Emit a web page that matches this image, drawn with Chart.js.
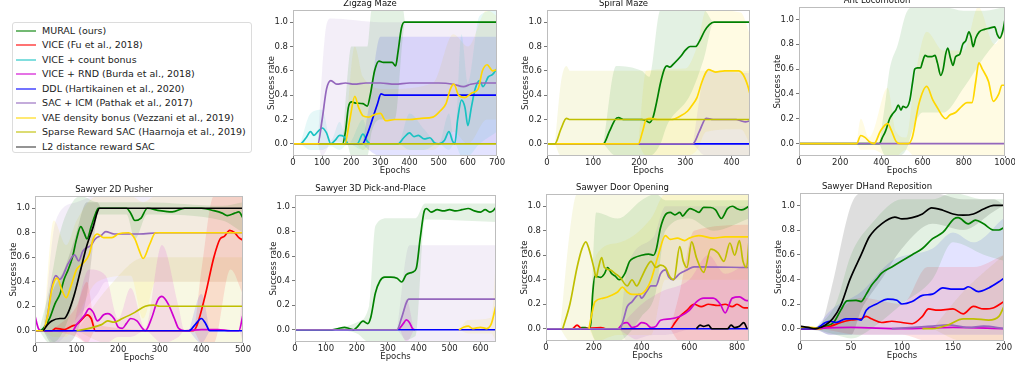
<!DOCTYPE html>
<html>
<head>
<meta charset="utf-8">
<script src="https://cdn.jsdelivr.net/npm/chart.js@4.4.1/dist/chart.umd.min.js"></script>
<style>
  body { margin: 0; background: #fff; width: 1015px; height: 366px; overflow: hidden; position: relative; font-family: "DejaVu Sans", sans-serif; }
  canvas { position: absolute; }
  #legend { position: absolute; left: 12px; top: 22px; width: 240px; height: 131px; border: 1px solid #dcdcdc; border-radius: 3px; box-sizing: border-box; }
  .item { position: absolute; left: 0; width: 236px; height: 13px; font-size: 9.5px; line-height: 13px; color: #222; white-space: nowrap; }
  .item .sw { position: absolute; left: 3px; top: 6px; width: 20px; height: 2px; }
  .item .tx { position: absolute; left: 29px; top: 0; }
</style>
</head>
<body>
<div id="legend"></div>
<script>
const seriesNames = ["MURAL (ours)", "VICE (Fu et al., 2018)", "VICE + count bonus", "VICE + RND (Burda et al., 2018)", "DDL (Hartikainen et al., 2020)", "SAC + ICM (Pathak et al., 2017)", "VAE density bonus (Vezzani et al., 2019)", "Sparse Reward SAC (Haarnoja et al., 2019)", "L2 distance reward SAC"];
const seriesColors = ["#008000", "#ff0000", "#19c2c2", "#d000d0", "#0000ff", "#9467bd", "#ffd700", "#bfbf00", "#000000"];
const yTicks = [0, 0.2, 0.4, 0.6, 0.8, 1.0];

// Zigzag Maze  [epoch, success]
var zigzagMural = [[0,0],[170,0],[180,0.1],[190,0.3],[200,0.345],[215,0.335],[240,0.33],[255,0.31],[265,0.4],[280,0.6],[295,0.68],[310,0.67],[340,0.67],[352,0.64],[360,0.75],[372,0.95],[382,1.0],[700,1.0]];
var zigzagCount = [[0,0],[25,0],[45,0.05],[60,0.1],[72,0.07],[85,0.1],[100,0.13],[115,0.09],[130,0],[145,0.03],[160,0.07],[175,0.06],[190,0],[220,0],[240,0.08],[255,0.02],[265,0],[360,0],[380,0.05],[400,0.09],[415,0.06],[430,0.07],[450,0.04],[470,0.05],[485,0.01],[500,0],[520,0.03],[535,0.1],[548,0.02],[555,0],[565,0.2],[578,0.36],[590,0.3],[600,0.15],[612,0.3],[625,0.45],[640,0.52],[652,0.47],[670,0.55],[685,0.57],[700,0.62]];
var zigzagDdl = [[0,0],[238,0],[255,0.08],[275,0.22],[290,0.33],[302,0.41],[315,0.4],[700,0.4]];
var zigzagIcm = [[0,0],[85,0],[100,0.2],[115,0.45],[130,0.52],[150,0.49],[180,0.5],[210,0.49],[250,0.5],[300,0.5],[350,0.49],[400,0.5],[450,0.5],[500,0.5],[550,0.49],[585,0.47],[610,0.49],[650,0.5],[700,0.5]];
var zigzagVae = [[0,0],[178,0],[195,0.2],[212,0.39],[225,0.3],[240,0.23],[260,0.22],[280,0.24],[300,0.25],[318,0.19],[350,0.2],[400,0.2],[440,0.21],[480,0.22],[505,0.27],[525,0.33],[540,0.45],[552,0.49],[568,0.4],[590,0.38],[615,0.42],[635,0.45],[650,0.6],[666,0.65],[685,0.6],[700,0.61]];
var zigzagSparse = [[90,0],[700,0]];
var zigzagMuralBand = [[170,0,0],[185,0,0.5],[200,-0.1,0.8],[255,-0.1,0.8],[270,0.1,1.1],[300,0.2,1.1],[350,0.2,1.1],[378,0.9,1.1],[385,1,1],[700,1,1]];
var zigzagCountBand = [[25,0,0],[60,-0.05,0.25],[100,-0.05,0.28],[130,-0.02,0.03],[160,-0.05,0.18],[190,0,0],[240,-0.05,0.2],[265,0,0],[360,0,0],[400,-0.05,0.25],[450,-0.05,0.12],[500,0,0],[535,-0.05,0.25],[555,0,0],[578,-0.1,0.9],[600,-0.1,0.5],[640,0,1.05],[700,0.1,1.1]];
var zigzagDdlBand = [[238,0,0],[260,-0.05,0.3],[300,-0.1,0.88],[700,-0.1,0.88]];
var zigzagIcmBand = [[85,0,0],[100,-0.1,0.6],[115,-0.05,0.98],[130,0.02,1.03],[300,0,1.0],[700,0,1.0]];
var zigzagVaeBand = [[178,0,0],[212,0,0.8],[240,-0.05,0.55],[320,-0.05,0.45],[480,-0.05,0.5],[550,0.1,0.9],[600,0,0.8],[666,0.2,1.1],[700,0.2,1.05]];

// Spiral Maze
var spiralMural = [[0,0],[122,0],[135,0.1],[148,0.2],[155,0.215],[165,0.2],[205,0.2],[215,0.19],[222,0.175],[230,0.22],[238,0.35],[246,0.5],[255,0.62],[260,0.64],[266,0.63],[275,0.66],[290,0.72],[300,0.77],[310,0.8],[322,0.8],[330,0.84],[342,0.93],[352,0.98],[362,1.0],[440,1.0]];
var spiralVae = [[0,0],[198,0],[207,0.1],[215,0.2],[225,0.21],[240,0.2],[270,0.2],[290,0.23],[305,0.27],[315,0.32],[325,0.38],[335,0.5],[345,0.59],[350,0.61],[365,0.59],[385,0.6],[400,0.6],[415,0.6],[425,0.57],[435,0.48],[440,0.41]];
var spiralSparse = [[0,0],[17,0],[30,0.12],[42,0.21],[50,0.2],[440,0.2]];
var spiralIcm = [[0,0],[316,0],[330,0.1],[345,0.21],[360,0.2],[400,0.2],[410,0.2],[420,0.19],[430,0.18],[440,0.19]];
var spiralDdl = [[0,0],[440,0]];
var spiralMuralBand = [[122,0,0],[150,-0.1,0.64],[205,-0.1,0.6],[222,-0.1,0.55],[246,0,1.1],[260,0.15,1.1],[310,0.4,1.1],[340,0.7,1.1],[362,1,1],[440,1,1]];
var spiralVaeBand = [[198,0,0],[215,-0.1,0.6],[300,-0.1,0.62],[325,-0.05,0.8],[345,0.1,1.1],[420,0.12,1.08],[440,0,0.9]];
var spiralSparseBand = [[17,0,0],[30,-0.1,0.5],[42,-0.1,0.64],[50,-0.1,0.6],[440,-0.1,0.6]];
var spiralIcmBand = [[316,0,0],[345,-0.1,0.6],[440,-0.1,0.58]];

// Ant Locomotion
var antMural = [[0,0],[390,0],[405,0.05],[420,0.1],[440,0.2],[455,0.24],[470,0.27],[482,0.31],[495,0.27],[505,0.3],[520,0.29],[538,0.35],[552,0.5],[562,0.6],[575,0.61],[590,0.61],[600,0.66],[612,0.71],[625,0.7],[645,0.7],[660,0.71],[672,0.65],[688,0.55],[700,0.6],[712,0.72],[722,0.77],[735,0.69],[748,0.63],[760,0.7],[780,0.72],[795,0.8],[810,0.83],[825,0.9],[835,0.86],[845,0.78],[858,0.85],[875,0.9],[900,0.92],[925,0.93],[950,0.94],[962,0.88],[975,0.85],[988,0.9],[1000,1.0]];
var antVae = [[0,0],[280,0],[300,0.065],[320,0.05],[345,0.01],[365,0],[395,0.1],[430,0.16],[450,0.1],[470,0.02],[490,0],[530,0],[550,0.05],[582,0.32],[620,0.46],[650,0.35],[675,0.28],[697,0.22],[712,0.2],[732,0.23],[760,0.25],[790,0.3],[815,0.33],[840,0.33],[858,0.5],[873,0.65],[890,0.6],[920,0.5],[943,0.34],[970,0.4],[985,0.47],[1000,0.47]];
var antIcm = [[0,0],[1000,0]];
var antMuralBand = [[390,0,0],[420,-0.1,0.35],[440,-0.1,0.6],[480,-0.1,0.8],[520,-0.05,1.05],[560,0.15,1.1],[600,0.25,1.1],[700,0.25,1.1],[800,0.45,1.07],[900,0.7,1.07],[1000,0.9,1.1]];
var antVaeBand = [[280,0,0],[300,-0.05,0.2],[340,-0.05,0.05],[360,-0.05,0.1],[430,-0.1,0.45],[470,-0.1,0.1],[520,-0.05,0.05],[560,-0.1,0.5],[620,-0.1,0.9],[700,-0.1,0.75],[800,-0.1,0.75],[870,-0.1,1.1],[950,-0.1,0.8],[1000,-0.1,0.95]];

// Sawyer 2D Pusher
var pusherMural = [[0,0],[10,0],[20,0.02],[35,0.1],[48,0.22],[60,0.3],[70,0.42],[80,0.5],[90,0.6],[100,0.75],[110,0.85],[118,0.8],[125,0.75],[135,0.85],[145,0.95],[152,1.0],[220,1.0],[230,0.96],[240,0.9],[255,0.92],[270,1.0],[300,0.98],[330,0.97],[360,1.0],[400,1.0],[430,0.98],[450,0.96],[462,0.94],[480,0.96],[490,0.97],[500,0.92]];
var pusherVice = [[0,0],[40,0],[50,0.02],[70,0.01],[90,0.04],[100,0.05],[115,0.1],[125,0.13],[135,0.1],[145,0],[380,0],[390,0.05],[410,0.3],[430,0.6],[445,0.75],[455,0.77],[468,0.82],[480,0.8],[490,0.76],[500,0.74]];
var pusherRnd = [[0,0.12],[8,0.02],[15,0],[90,0],[100,0.05],[120,0.13],[130,0.18],[140,0.15],[150,0.08],[165,0.13],[175,0.14],[190,0.1],[200,0.03],[210,0.02],[220,0.06],[230,0.1],[245,0.08],[258,0.02],[265,0],[280,0.1],[295,0.25],[305,0.28],[320,0.22],[335,0.1],[345,0.02],[360,0],[400,0.01],[440,0.01],[470,0],[490,0],[500,0.13]];
var pusherDdl = [[0,0],[370,0],[385,0.05],[400,0.1],[410,0.06],[420,0],[500,0]];
var pusherIcm = [[0,0],[20,0],[30,0.12],[40,0.35],[50,0.45],[60,0.42],[80,0.55],[95,0.62],[105,0.57],[115,0.65],[135,0.7],[145,0.75],[160,0.78],[170,0.81],[190,0.79],[250,0.79],[300,0.8],[500,0.8]];
var pusherVae = [[0,0],[20,0],[30,0.12],[40,0.33],[47,0.41],[53,0.43],[65,0.33],[75,0.27],[85,0.35],[100,0.5],[115,0.55],[130,0.62],[140,0.75],[150,0.79],[165,0.76],[185,0.76],[200,0.79],[225,0.8],[240,0.75],[250,0.66],[260,0.59],[275,0.7],[290,0.8],[500,0.8]];
var pusherSparse = [[100,0],[130,0.02],[160,0.05],[175,0.08],[190,0.07],[210,0.1],[240,0.15],[265,0.2],[285,0.21],[300,0.2],[500,0.2]];
var pusherL2 = [[20,0],[30,0.05],[40,0.08],[60,0.1],[70,0.1],[80,0.15],[95,0.3],[110,0.5],[125,0.7],[140,0.85],[150,0.97],[155,1.0],[500,1.0]];
var pusherMuralBand = [[10,0,0],[35,-0.1,0.35],[60,-0.05,0.8],[90,0.2,1.05],[110,0.5,1.1],[150,0.95,1.05],[220,0.95,1.05],[240,0.75,1.05],[270,0.95,1.05],[450,0.9,1.02],[500,0.8,1.05]];
var pusherViceBand = [[40,0,0],[100,-0.05,0.2],[125,-0.1,0.4],[145,0,0.05],[380,0,0],[400,-0.1,0.5],[430,-0.1,1.1],[470,0.5,1.1],[500,0.3,1.1]];
var pusherRndBand = [[90,0,0],[130,-0.1,0.5],[170,-0.1,0.45],[200,-0.05,0.1],[230,-0.05,0.35],[265,0,0.02],[305,-0.1,0.7],[345,-0.05,0.2],[360,0,0],[490,0,0],[500,-0.1,0.5]];
var pusherDdlBand = [[370,0,0],[400,-0.1,0.3],[420,0,0]];
var pusherIcmBand = [[20,0,0],[50,-0.1,0.9],[100,0.1,1.05],[150,0.3,1.1],[170,0.4,1.1],[500,0.4,1.1]];
var pusherVaeBand = [[20,0,0],[45,-0.05,0.9],[75,-0.05,0.7],[100,0.1,0.9],[150,0.4,1.1],[230,0.45,1.1],[260,0.1,1.05],[290,0.4,1.1],[500,0.4,1.1]];
var pusherSparseBand = [[100,0,0],[175,-0.1,0.35],[265,-0.1,0.6],[500,-0.1,0.6]];
var pusherL2Band = [[20,0,0],[40,-0.1,0.3],[70,-0.1,0.5],[95,-0.05,0.75],[125,0.3,1.05],[150,0.95,1.05],[160,1,1],[500,1,1]];

// Sawyer 3D Pick-and-Place
var pickMural = [[0,0],[120,0],[140,0.01],[160,0.02],[175,0.01],[190,0],[200,0.02],[220,0.07],[235,0.05],[245,0.1],[260,0.3],[275,0.4],[290,0.43],[310,0.43],[330,0.42],[345,0.39],[360,0.45],[380,0.47],[392,0.5],[405,0.75],[418,0.97],[425,0.99],[440,0.96],[460,0.98],[480,0.97],[500,0.98],[520,0.97],[540,0.98],[560,0.99],[580,0.97],[600,0.96],[615,0.98],[630,0.96],[640,0.97],[650,1.0]];
var pickRnd = [[335,0],[350,0.05],[360,0.08],[370,0.06],[380,0.01],[388,0]];
var pickDdl = [[0,0],[650,0]];
var pickIcm = [[0,0],[330,0],[345,0.1],[360,0.22],[368,0.25],[650,0.25]];
var pickVae = [[530,0],[545,0.02],[560,0.03],[575,0.01],[600,0.02],[620,0.01],[635,0.05],[650,0.2]];
var pickMuralBand = [[120,0,0],[200,-0.03,0.06],[240,-0.1,0.2],[260,-0.1,0.85],[300,-0.1,0.91],[390,-0.05,0.91],[420,0.9,1.03],[650,0.88,1.03]];
var pickRndBand = [[340,0,0],[360,-0.1,0.25],[385,0,0]];
var pickIcmBand = [[330,0,0],[370,-0.1,0.69],[650,-0.1,0.69]];
var pickVaeBand = [[530,0,0],[560,-0.03,0.08],[635,-0.03,0.1],[650,-0.1,0.6]];

// Sawyer Door Opening
var doorMural = [[0,0],[140,0],[150,0.01],[165,0.01],[180,0],[188,0.05],[196,0.3],[205,0.43],[230,0.42],[245,0.45],[258,0.5],[275,0.45],[290,0.43],[306,0.4],[330,0.45],[350,0.55],[370,0.58],[400,0.6],[430,0.61],[450,0.6],[462,0.65],[479,0.82],[500,0.93],[520,0.95],[540,0.93],[560,0.95],[572,0.92],[590,0.96],[603,0.98],[620,0.97],[640,0.95],[660,0.99],[690,0.99],[710,0.97],[734,0.9],[760,0.98],[780,1.0],[800,0.98],[820,0.97],[850,1.0]];
var doorVice = [[0,0],[110,0],[130,0.03],[150,0],[230,0.01],[250,0],[520,0],[540,0.05],[560,0.1],[590,0.15],[610,0.19],[620,0.2],[650,0.18],[680,0.2],[720,0.19],[750,0.2],[780,0.18],[800,0.2],[830,0.17],[850,0.17]];
var doorRnd = [[0,0],[300,0],[320,0.04],[340,0.05],[360,0.01],[380,0.02],[400,0.05],[420,0.04],[440,0.01],[460,0.02],[480,0.07],[520,0.08],[560,0.1],[600,0.15],[630,0.22],[660,0.25],[700,0.25],[730,0.2],[750,0.13],[780,0.25],[810,0.26],[840,0.23],[850,0.23]];
var doorDdl = [[0,0],[850,0]];
var doorIcm = [[0,0],[310,0],[325,0.08],[340,0.18],[360,0.22],[390,0.28],[400,0.25],[420,0.3],[440,0.35],[460,0.35],[480,0.45],[500,0.48],[515,0.42],[530,0.4],[560,0.45],[590,0.48],[620,0.505],[850,0.5]];
var doorVae = [[180,0],[195,0.15],[205,0.22],[240,0.25],[270,0.27],[300,0.3],[320,0.34],[340,0.3],[360,0.28],[390,0.28],[420,0.32],[440,0.4],[470,0.6],[500,0.76],[520,0.73],[550,0.74],[580,0.72],[600,0.74],[640,0.76],[700,0.74],[750,0.75],[850,0.75]];
var doorSparse = [[70,0],[100,0.2],[130,0.5],[150,0.65],[167,0.71],[180,0.65],[200,0.5],[210,0.42],[220,0.5],[233,0.58],[245,0.5],[270,0.48],[290,0.45],[310,0.42],[340,0.35],[360,0.4],[380,0.35],[400,0.42],[420,0.5],[440,0.55],[460,0.5],[480,0.52],[500,0.5],[520,0.42],[535,0.4],[560,0.67],[575,0.55],[590,0.5],[610,0.71],[630,0.58],[660,0.46],[690,0.65],[720,0.62],[745,0.55],[770,0.7],[790,0.6],[810,0.72],[825,0.55],[840,0.5],[850,0.72]];
var doorL2 = [[630,0],[645,0.03],[660,0.02],[680,0.03],[695,0],[760,0],[775,0.03],[790,0.01],[810,0.02],[828,0.05],[842,0]];
var doorMuralBand = [[185,0,0],[210,-0.1,0.95],[300,-0.1,0.9],[400,0.1,1.05],[460,0.3,1.1],[500,0.8,1.05],[600,0.9,1.05],[700,0.8,1.05],[850,0.9,1.05]];
var doorViceBand = [[520,0,0],[560,-0.1,0.3],[620,-0.1,0.8],[850,-0.1,0.85]];
var doorRndBand = [[300,0,0],[400,-0.1,0.2],[480,-0.1,0.3],[600,-0.1,0.4],[680,-0.1,0.6],[750,-0.1,0.45],[850,-0.1,0.55]];
var doorIcmBand = [[310,0,0],[340,-0.1,0.5],[450,-0.05,0.75],[500,-0.05,1.0],[620,0,1.0],[850,0,1.0]];
var doorVaeBand = [[180,0,0],[210,-0.1,0.6],[300,-0.05,0.7],[440,-0.05,0.9],[500,0.4,1.1],[850,0.4,1.1]];
var doorSparseBand = [[60,0,0],[100,-0.1,0.8],[130,-0.1,1.1],[850,-0.1,1.1]];

// Sawyer DHand Reposition
var dhandMural = [[0,0],[15,0],[25,0.02],[33,0.05],[40,0.15],[46,0.225],[55,0.23],[60,0.22],[65,0.28],[70,0.35],[75,0.4],[80,0.45],[90,0.5],[100,0.55],[110,0.6],[120,0.65],[130,0.73],[140,0.78],[151,0.89],[155,0.9],[165,0.85],[172,0.88],[180,0.85],[190,0.8],[195,0.8],[200,0.82]];
var dhandVice = [[0,0],[20,0],[30,0.02],[40,0.05],[50,0.07],[60,0.08],[65,0.1],[70,0.08],[80,0.05],[90,0.06],[100,0.05],[110,0.04],[120,0.1],[126,0.16],[135,0.15],[150,0.16],[160,0.12],[170,0.18],[180,0.16],[190,0.17],[200,0.22]];
var dhandRnd = [[0,0],[50,0.01],[100,0],[150,0.01],[200,0]];
var dhandDdl = [[0,0],[15,0],[25,0.05],[30,0.06],[35,0.05],[45,0.08],[55,0.08],[60,0.07],[65,0.15],[75,0.2],[86,0.24],[95,0.23],[100,0.2],[110,0.22],[120,0.27],[130,0.28],[140,0.33],[150,0.32],[160,0.32],[165,0.34],[175,0.3],[185,0.33],[195,0.38],[200,0.41]];
var dhandIcm = [[90,0],[130,0.02],[145,0.03],[165,0.01],[180,0.02],[200,0]];
var dhandVae = [[0,0.01],[10,0.01],[20,0]];
var dhandSparse = [[120,0],[130,0],[145,0.03],[160,0.08],[170,0.08],[185,0.07],[195,0.1],[200,0.18]];
var dhandL2 = [[0,0.02],[8,0.01],[15,0],[25,0.03],[32,0.08],[40,0.19],[49,0.4],[60,0.6],[68,0.745],[80,0.85],[93,0.905],[100,0.89],[110,0.9],[120,0.93],[129,0.98],[140,0.96],[150,0.93],[160,0.92],[170,0.93],[180,0.97],[190,1.0],[200,1.0]];
var dhandMuralBand = [[15,0,0],[35,-0.05,0.2],[50,-0.08,0.6],[70,0,0.85],[100,0.2,1.05],[130,0.4,1.05],[150,0.7,1.1],[180,0.6,1.05],[200,0.55,1.05]];
var dhandViceBand = [[20,0,0],[60,-0.05,0.25],[100,-0.05,0.2],[125,-0.1,0.5],[170,-0.1,0.5],[200,-0.1,0.6]];
var dhandDdlBand = [[15,0,0],[30,-0.05,0.15],[60,-0.05,0.3],[90,-0.05,0.55],[130,-0.05,0.65],[150,-0.05,0.78],[170,-0.05,0.7],[200,-0.05,0.9]];
var dhandSparseBand = [[130,0,0],[160,-0.1,0.3],[200,-0.1,0.6]];
var dhandL2Band = [[0,0,0],[20,-0.02,0.03],[30,-0.05,0.3],[50,-0.05,1.0],[60,0.15,1.1],[80,0.4,1.1],[100,0.65,1.1],[130,0.85,1.1],[160,0.8,1.05],[190,0.95,1.05],[200,1,1]];

// panel layout: plot-area box in page pixels [left, top, right, bottom]
var panels = [
  { title: "Zigzag Maze", box: [293, 10, 497, 156], xMax: 700, xTicks: [0,100,200,300,400,500,600,700],
    lines: [zigzagMural, null, zigzagCount, null, zigzagDdl, zigzagIcm, zigzagVae, zigzagSparse, null],
    bands: [zigzagMuralBand, null, zigzagCountBand, null, zigzagDdlBand, zigzagIcmBand, zigzagVaeBand, null, null] },
  { title: "Spiral Maze", box: [547, 10, 750, 156], xMax: 440, xTicks: [0,100,200,300,400],
    lines: [spiralMural, null, null, null, spiralDdl, spiralIcm, spiralVae, spiralSparse, null],
    bands: [spiralMuralBand, null, null, null, null, spiralIcmBand, spiralVaeBand, spiralSparseBand, null] },
  { title: "Ant Locomotion", box: [799, 7, 1005, 156], xMax: 1000, xTicks: [0,200,400,600,800,1000],
    lines: [antMural, null, null, null, null, antIcm, antVae, null, null],
    bands: [antMuralBand, null, null, null, null, null, antVaeBand, null, null] },
  { title: "Sawyer 2D Pusher", box: [35, 196, 243, 343], xMax: 500, xTicks: [0,100,200,300,400,500],
    lines: [pusherMural, pusherVice, null, pusherRnd, pusherDdl, pusherIcm, pusherVae, pusherSparse, pusherL2],
    bands: [pusherMuralBand, pusherViceBand, null, pusherRndBand, pusherDdlBand, pusherIcmBand, pusherVaeBand, pusherSparseBand, pusherL2Band] },
  { title: "Sawyer 3D Pick-and-Place", box: [295, 195, 496, 342], xMax: 650, xTicks: [0,100,200,300,400,500,600],
    lines: [pickMural, null, null, pickRnd, pickDdl, pickIcm, pickVae, null, null],
    bands: [pickMuralBand, null, null, pickRndBand, null, pickIcmBand, pickVaeBand, null, null] },
  { title: "Sawyer Door Opening", box: [546, 194, 749, 341], xMax: 850, xTicks: [0,200,400,600,800],
    lines: [doorMural, doorVice, null, doorRnd, doorDdl, doorIcm, doorVae, doorSparse, doorL2],
    bands: [doorMuralBand, doorViceBand, null, doorRndBand, null, doorIcmBand, doorVaeBand, doorSparseBand, null] },
  { title: "Sawyer DHand Reposition", box: [800, 193, 1004, 341], xMax: 200, xTicks: [0,50,100,150,200],
    lines: [dhandMural, dhandVice, null, dhandRnd, dhandDdl, dhandIcm, dhandVae, dhandSparse, dhandL2],
    bands: [dhandMuralBand, dhandViceBand, null, null, dhandDdlBand, null, null, dhandSparseBand, dhandL2Band] }
];

const AXIS_W = 50, XAXIS_H = 22, TITLE_H = 15, RIGHT_PAD = 14;
const tickFont = { family: "DejaVu Sans", size: 8.5 };
const textColor = "#262626";

function rgba(hex, a) {
  var r = parseInt(hex.substr(1, 2), 16), g = parseInt(hex.substr(3, 2), 16), b = parseInt(hex.substr(5, 2), 16);
  return "rgba(" + r + "," + g + "," + b + "," + a + ")";
}

// box round the plot area, like matplotlib spines
const framePlugin = {
  id: "frame",
  afterDraw(chart) {
    var a = chart.chartArea, ctx = chart.ctx;
    ctx.save();
    ctx.strokeStyle = "#bdbdbd";
    ctx.lineWidth = 1;
    ctx.strokeRect(Math.round(a.left) + 0.5, Math.round(a.top) + 0.5, Math.round(a.right - a.left) - 1, Math.round(a.bottom - a.top) - 1);
    ctx.restore();
  }
};

function makeDatasets(p) {
  var sets = [];
  for (var i = 0; i < p.bands.length; i++) {
    var band = p.bands[i];
    if (!band) continue;
    sets.push({ data: band.map(b => ({ x: b[0], y: b[1] })), borderWidth: 0, pointRadius: 0, fill: false, cubicInterpolationMode: "monotone", order: 100 });
    sets.push({ data: band.map(b => ({ x: b[0], y: b[2] })), borderWidth: 0, pointRadius: 0, fill: "-1", backgroundColor: rgba(seriesColors[i], i == 8 ? 0.13 : 0.11), cubicInterpolationMode: "monotone", order: 100 });
  }
  for (var j = 0; j < p.lines.length; j++) {
    var pts = p.lines[j];
    if (!pts) continue;
    sets.push({
      data: pts.map(v => ({ x: v[0], y: v[1] })),
      borderColor: seriesColors[j],
      borderWidth: 1.7,
      pointRadius: 0,
      fill: false,
      cubicInterpolationMode: "monotone",
      order: 20 - j
    });
  }
  return sets;
}

function makeChart(p) {
  var L = p.box[0], T = p.box[1], R = p.box[2], B = p.box[3];
  var canvas = document.createElement("canvas");
  var w = (R - L) + AXIS_W + RIGHT_PAD, h = (B - T) + TITLE_H + XAXIS_H;
  canvas.width = w;
  canvas.height = h;
  canvas.style.left = (L - AXIS_W) + "px";
  canvas.style.top = (T - TITLE_H) + "px";
  canvas.style.width = w + "px";
  canvas.style.height = h + "px";
  document.body.appendChild(canvas);

  new Chart(canvas, {
    type: "line",
    data: { datasets: makeDatasets(p) },
    plugins: [framePlugin],
    options: {
      responsive: false,
      animation: false,
      events: [],
      layout: { padding: { left: 0, right: RIGHT_PAD, top: 0, bottom: 0 } },
      plugins: {
        legend: { display: false },
        tooltip: { enabled: false },
        filler: { drawTime: "beforeDatasetsDraw" },
        title: { display: true, text: p.title, color: "#111", font: { family: "DejaVu Sans", size: 8.5, weight: "normal" }, padding: { top: 4, bottom: 0.8 } }
      },
      scales: {
        x: {
          type: "linear", min: 0, max: p.xMax,
          afterBuildTicks: s => { s.ticks = p.xTicks.map(v => ({ value: v })); },
          afterFit: s => { s.height = XAXIS_H; },
          ticks: { font: tickFont, color: textColor, padding: 0, maxRotation: 0, autoSkip: false, callback: v => String(v) },
          grid: { display: true, drawOnChartArea: false, drawTicks: true, tickLength: 2, color: "#777" },
          border: { display: false },
          title: { display: true, text: "Epochs", color: textColor, font: tickFont, padding: { top: 0, bottom: 2 } }
        },
        y: {
          min: -0.1, max: 1.1,
          afterBuildTicks: s => { s.ticks = yTicks.map(v => ({ value: v })); },
          afterFit: s => { s.width = AXIS_W; },
          ticks: { font: tickFont, color: textColor, padding: 2, callback: v => v.toFixed(1) },
          grid: { display: true, drawOnChartArea: false, drawTicks: true, tickLength: 3, color: "#777" },
          border: { display: false },
          title: { display: true, text: "Success rate", color: textColor, font: tickFont, padding: { top: 24, bottom: 0 } }
        }
      }
    }
  });
}

function makeLegend() {
  var box = document.getElementById("legend");
  for (var i = 0; i < seriesNames.length; i++) {
    var item = document.createElement("div");
    item.className = "item";
    item.style.top = (0.5 + i * 14.5) + "px";
    var sw = document.createElement("div");
    sw.className = "sw";
    sw.style.background = i == 8 ? "rgba(0,0,0,0.42)" : rgba(seriesColors[i], 0.55);
    var tx = document.createElement("div");
    tx.className = "tx";
    tx.textContent = seriesNames[i];
    item.appendChild(sw);
    item.appendChild(tx);
    box.appendChild(item);
  }
}

makeLegend();
panels.forEach(makeChart);
</script>
</body>
</html>
